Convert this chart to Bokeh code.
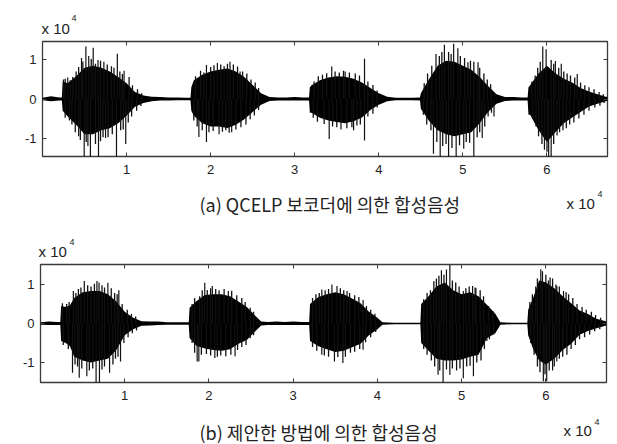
from bokeh.plotting import figure
from bokeh.models import Range1d, FixedTicker, LinearAxis
from bokeh.layouts import column
from bokeh.core.properties import value
from bokeh.embed import file_html
from bokeh.resources import INLINE

# ---------------- data ----------------
x_ticks = [10000, 20000, 30000, 40000, 50000, 60000]
x_tick_labels = ["1", "2", "3", "4", "5", "6"]
y_ticks = [-10000, 0, 10000]
y_tick_labels = ["-1", "0", "1"]
captions = ["(a) QCELP 보코더에 의한 합성음성", "(b) 제안한 방법에 의한 합성음성"]
scale_text = "x 10"
scale_exp = "4"

# panel (a): envelope of the dense waveform
a_x = [0, 1000, 2000, 2300, 2400, 3000, 4000, 5000, 6000, 7000,
       8000, 9000, 10000, 11000, 12000, 13000, 14000, 15000, 16000, 17000,
       17600, 17700, 18000, 19000, 20000, 21000, 22000, 23000, 24000, 25000,
       26000, 27000, 28000, 29000, 30000, 31000, 31700, 31800, 32000, 33000,
       34000, 35000, 36000, 37000, 38000, 39000, 40000, 41000, 42000, 43000,
       44000, 44900, 45000, 46000, 47000, 48000, 49000, 50000, 51000, 52000,
       53000, 54000, 55000, 56000, 57000, 57700, 57800, 58000, 59000, 60000,
       61000, 62000, 63000, 64000, 65000, 66000, 67000, 67200]
a_hi = [300, 700, 400, 400, 4500, 4000, 5800, 8000, 8500, 8000,
        7000, 5600, 4000, 1800, 900, 600, 500, 400, 400, 300,
        300, 3000, 4800, 6200, 7000, 7500, 7800, 7000, 5600, 3600,
        1500, 500, 400, 400, 500, 400, 400, 3000, 3500, 4800,
        5500, 5800, 5700, 5200, 4200, 2800, 1500, 600, 300, 300,
        300, 400, 1500, 5200, 8500, 9800, 9500, 8500, 7500, 5600,
        3300, 1200, 500, 500, 400, 400, 3000, 3500, 6500, 8500,
        6600, 5200, 4200, 2800, 1900, 1200, 600, 500]
a_lo = [-300, -600, -400, -400, -3000, -4500, -6600, -9000, -9000, -8000,
        -7500, -6200, -4300, -2000, -1000, -600, -400, -400, -300, -300,
        -300, -3000, -4300, -6200, -7000, -7000, -7400, -6600, -5200, -3300,
        -1500, -500, -400, -400, -400, -400, -400, -3500, -3500, -4800,
        -5500, -5900, -6200, -5700, -4700, -2800, -1500, -600, -300, -300,
        -300, -400, -2500, -5700, -8000, -9000, -9500, -9000, -8500, -6200,
        -3300, -1200, -500, -400, -400, -400, -4000, -4000, -8000, -11000,
        -8500, -6200, -4700, -3300, -1900, -1200, -600, -500]
# panel (a): tallest isolated peaks (x, amplitude)
a_peaks = [(2500, 5000), (3000, 5500), (4640, 10500), (5160, 13400), (5500, 11000),
           (6030, 13100), (6600, 10000), (7300, 9500), (8900, 11600), (9700, 7200),
           (4300, -9500), (4960, -14800), (5400, -12000), (5700, -14800), (6660, -14800),
           (7500, -10000), (8800, -14800), (9900, -11500),
           (19500, 8700), (20800, 9200), (22300, 9500), (23500, 7000),
           (18600, -9700), (19500, -11000), (21000, -9000), (22500, -8500),
           (34400, 8300), (36000, 7000), (38300, 10300),
           (34100, -10200), (35500, -7800), (37000, -8000), (38300, -10600),
           (46800, 11500), (47800, 13900), (48900, 14100), (49400, 13000), (50600, 9400), (51800, 9400),
           (46500, -14000), (47300, -14800), (48300, -14800), (49200, -14800), (50100, -12700),
           (51300, -14800), (52300, -10000), (53700, -4500),
           (59500, 13400), (59900, 12700), (61000, 9700), (61700, 9000), (63600, 6400),
           (59700, -13000), (60200, -14800), (60500, -14800), (61200, -9300)]
# panel (a): ragged edge of the waveform (x, amplitude)
a_edge = [(2700, 5200), (3300, 4800), (3600, 5600), (4000, 7000), (4300, 8200), (4800, 9600),
          (5800, 10200), (6300, 9000), (6900, 9800), (7700, 8800), (8200, 8400), (8500, 8000),
          (9200, 7000), (9500, 6400), (10300, 5600), (10700, 3500), (11300, 2500), (11800, 1500),
          (2700, -4800), (3200, -5500), (3500, -6500), (3900, -8500), (4500, -10500), (5200, -11000),
          (6300, -11500), (6900, -10800), (7200, -9800), (7800, -9800), (8300, -9000), (9300, -8000),
          (9600, -7800), (10200, -6000), (10600, -4500), (11200, -3000), (11700, -1800),
          (18200, 5800), (18800, 7200), (19200, 6800), (20000, 8200), (20400, 8600), (21200, 8800),
          (21600, 8400), (22000, 9000), (22700, 8800), (23200, 8300), (23800, 7000), (24300, 6500),
          (24800, 5000), (25300, 4200), (25700, 2800),
          (18000, -5500), (18400, -7000), (19000, -8000), (19800, -8500), (20300, -8200), (21400, -8400),
          (21800, -8000), (22200, -8600), (23000, -7800), (23600, -7200), (24200, -6500), (24700, -5200),
          (25200, -4200), (25700, -2800),
          (32300, 4500), (32800, 5800), (33300, 6200), (33800, 6600), (34800, 7000), (35300, 6800),
          (35800, 7200), (36500, 6800), (37200, 6500), (37700, 6000), (38700, 4500), (39300, 3600),
          (39800, 2200),
          (32200, -4800), (32700, -5800), (33500, -6400), (34500, -7000), (35000, -7200), (36200, -7500),
          (36800, -7200), (37400, -6800), (37800, -6500), (38700, -4500), (39300, -3800), (39800, -2200),
          (45400, 4000), (45800, 6500), (46300, 8500), (47200, 11000), (47500, 12000), (48300, 12000),
          (48600, 11500), (49700, 11000), (50200, 10500), (50900, 9800), (51300, 9500), (52000, 8000),
          (52500, 6500), (52900, 5000), (53300, 3800),
          (45300, -4000), (45700, -6500), (46200, -8000), (46900, -11000), (47600, -12000), (48000, -11500),
          (48700, -12500), (49600, -11800), (50400, -11000), (50800, -11200), (51700, -9800), (52000, -8500),
          (52600, -7000), (53000, -4500), (53400, -3500),
          (58200, 4500), (58600, 6000), (58900, 8000), (59200, 9500), (60500, 10000), (60800, 9000),
          (61400, 8000), (62000, 7000), (62400, 6500), (62800, 6000), (63300, 5500), (64000, 4200),
          (64500, 3500), (65000, 3000), (65600, 2500), (66200, 1800), (66700, 1200),
          (58300, -5000), (58700, -7000), (59000, -9500), (59400, -11500), (60000, -13500), (60800, -11500),
          (61500, -8500), (61900, -8000), (62300, -7500), (62700, -6500), (63200, -6000), (63800, -5000),
          (64400, -4000), (65000, -3000), (65700, -2200), (66300, -1700), (66800, -1000)]

# panel (b): envelope of the dense waveform
b_x = [0, 1000, 2000, 2350, 2450, 3000, 3500, 4000, 5000, 6000,
       7000, 8000, 9000, 10000, 11000, 12000, 13000, 14000, 15000, 16000,
       17000, 17600, 17700, 18500, 19500, 20500, 21500, 22500, 23500, 24500,
       25500, 26200, 27000, 28000, 29000, 30000, 31000, 31900, 32000, 33000,
       34000, 35000, 36000, 37000, 38000, 39000, 40000, 40600, 42000, 44000,
       45100, 45200, 46000, 47000, 48000, 49000, 50000, 51000, 52000, 53000,
       54000, 54600, 56000, 57800, 57900, 58500, 59200, 60000, 61000, 62000,
       63000, 64000, 65000, 66000, 67200]
b_hi = [300, 500, 400, 400, 4500, 4200, 4700, 6500, 8000, 8300,
        8300, 7500, 5600, 3000, 1500, 600, 500, 500, 300, 300,
        300, 300, 4000, 5700, 7300, 7500, 7500, 7000, 5600, 4200,
        2000, 500, 400, 500, 400, 500, 400, 400, 5000, 6800,
        7500, 8000, 7500, 6400, 5200, 3000, 1500, 300, 200, 200,
        200, 5000, 6800, 9500, 10500, 8500, 7500, 8000, 7000, 4800,
        2500, 300, 200, 200, 3500, 6600, 11000, 10500, 9000, 7000,
        5200, 3300, 2400, 1200, 500]
b_lo = [-300, -400, -400, -400, -4500, -5000, -5800, -8500, -9500, -10000,
        -9500, -9000, -6800, -3000, -1500, -600, -500, -400, -300, -300,
        -300, -300, -3700, -5700, -6400, -6800, -7000, -6600, -5200, -4200,
        -2000, -500, -400, -400, -400, -400, -400, -400, -4500, -5800,
        -6600, -7300, -7000, -6100, -5200, -3000, -1500, -300, -200, -200,
        -200, -5000, -6800, -9000, -9500, -9500, -9200, -8500, -8000, -3800,
        -2500, -300, -200, -200, -3000, -6600, -9500, -10500, -9000, -6800,
        -5200, -2900, -1900, -1200, -500]
# panel (b): tallest isolated peaks (x, amplitude)
b_peaks = [(3900, 8300), (5200, 10900), (6700, 10900), (6950, 10500), (8000, 10400), (9300, 8500),
           (3800, -12600), (4600, -13900), (5500, -13500), (6600, -15100), (7000, -15100),
           (8200, -12600), (9500, -9700),
           (19500, 10400), (20400, 9600), (22300, 8300),
           (18600, -9700), (18800, -9700), (20700, -8800), (23100, -8400),
           (33400, 8700), (34600, 10000), (35200, 9600), (36400, 8300), (38300, 6000),
           (33400, -8000), (34900, -9700), (35900, -10100), (38300, -6700),
           (47600, 13600), (48200, 13800), (48600, 15000), (50200, 8300), (51300, 9600), (51700, 9100),
           (47200, -13100), (47800, -15100), (48600, -13100), (50200, -14000), (51400, -13500),
           (53000, -4500),
           (59400, 13900), (59600, 13400), (60300, 11000), (61300, 9600), (62100, 8300),
           (59700, -14800), (60100, -14800), (60800, -12000), (61300, -9700)]
# panel (b): ragged edge of the waveform (x, amplitude)
b_edge = [(2600, 5200), (3100, 5000), (3400, 5500), (4200, 7800), (4500, 8800), (4800, 9200),
          (5600, 9800), (6000, 9500), (6400, 10200), (7300, 9800), (7600, 9200), (8400, 9000),
          (8800, 7800), (9100, 7500), (9700, 5000), (10300, 3500), (10800, 2400), (11300, 1800),
          (2700, -5500), (3300, -6500), (4100, -10500), (4400, -11000), (4900, -11500), (5800, -12000),
          (6200, -11500), (7300, -11800), (7600, -11000), (8600, -10500), (8900, -9000), (9200, -8500),
          (9900, -5000), (10400, -3500), (10900, -2500), (11400, -1800),
          (18000, 5000), (18300, 6500), (18900, 7000), (19200, 8500), (19800, 8600), (20200, 9000),
          (20800, 8800), (21200, 8500), (21800, 8800), (22700, 8400), (23300, 7200), (23900, 6500),
          (24300, 5500), (24900, 4000), (25300, 3000),
          (18000, -5000), (18300, -7500), (19100, -8000), (19700, -7800), (20200, -8200), (21000, -8500),
          (21400, -8200), (22000, -8400), (22600, -8000), (23400, -6800), (23900, -6000), (24400, -5500),
          (24900, -3800), (25300, -3000),
          (32300, 6500), (32700, 7500), (33100, 7800), (33800, 8500), (34200, 8800), (35600, 9000),
          (36000, 8500), (36700, 7800), (37300, 7200), (37800, 6800), (38700, 4500), (39200, 3500),
          (39700, 2500),
          (32300, -6000), (32800, -7000), (33700, -8200), (34200, -8500), (35300, -8600), (36200, -8500),
          (36800, -7500), (37300, -7200), (37900, -6500), (38600, -4800), (39200, -3500), (39800, -2200),
          (45500, 6200), (45900, 7800), (46300, 8500), (46700, 10800), (47000, 11500), (47300, 12200),
          (47900, 12500), (48900, 11000), (49300, 10500), (49700, 9500), (50500, 9000), (50900, 9500),
          (51600, 9200), (52200, 8500), (52600, 7000), (53200, 4500), (53700, 3200),
          (45500, -6500), (45900, -8000), (46400, -9500), (46800, -11000), (47400, -12000), (48200, -11800),
          (48900, -11500), (49400, -12000), (49800, -11500), (50600, -11000), (51000, -10800), (51800, -10000),
          (52300, -9500), (52700, -6500), (53300, -4000), (53800, -2800),
          (58100, 5500), (58400, 7500), (58800, 9500), (59000, 11500), (60000, 12500), (60500, 11800),
          (60800, 11500), (61200, 10000), (61600, 9500), (62400, 8000), (62700, 7500), (63200, 6500),
          (63700, 5000), (64300, 4200), (64800, 3500), (65400, 3000), (65900, 2200), (66500, 1500),
          (58200, -5000), (58600, -8000), (59000, -11000), (59300, -12500), (59900, -13000), (60400, -12000),
          (61000, -11000), (61600, -9000), (62000, -8500), (62500, -8000), (63000, -6500), (63500, -5500),
          (64000, -4000), (64600, -3500), (65200, -2800), (65800, -2000), (66400, -1500)]

TICK_FONT = "Liberation Sans"
CAP_FONT = "Noto Sans CJK KR"
TXT = "#222222"
W = 617


def make_panel(height, b_left, b_right, b_top, b_bottom, yr, ex, ehi, elo, peaks, edge):
    p = figure(width=W, height=height, output_backend="svg", toolbar_location=None,
               x_range=Range1d(0, 67200), y_range=Range1d(*yr),
               min_border_left=b_left, min_border_right=b_right,
               min_border_top=b_top, min_border_bottom=b_bottom)
    p.frame_align = False
    p.grid.visible = False
    p.background_fill_color = "white"
    p.border_fill_color = "white"
    p.outline_line_color = "#3a3a3a"
    p.outline_line_width = 1.3

    p.varea(x=ex, y1=elo, y2=ehi, fill_color="black")
    for pts, lw in ((edge, 1.3), (peaks, 1.2)):
        xs = [q[0] for q in pts]
        ys = [q[1] for q in pts]
        p.segment(x0=xs, y0=[0] * len(xs), x1=xs, y1=ys, line_color="#111111", line_width=lw)

    for ax in (p.xaxis[0], p.yaxis[0]):
        ax.major_tick_in = 4
        ax.major_tick_out = 0
        ax.minor_tick_line_color = None
        ax.axis_line_color = None
        ax.major_tick_line_color = "#3a3a3a"
        ax.major_label_text_font = TICK_FONT
        ax.major_label_text_font_size = "13px"
        ax.major_label_text_color = TXT
    p.xaxis.ticker = FixedTicker(ticks=x_ticks)
    p.xaxis.major_label_overrides = dict(zip(x_ticks, x_tick_labels))
    p.xaxis.major_label_standoff = 8
    p.yaxis.ticker = FixedTicker(ticks=y_ticks)
    p.yaxis.major_label_overrides = dict(zip(y_ticks, y_tick_labels))
    p.yaxis.major_label_standoff = 6

    # MATLAB-style box ticks on the top and right edges (no labels)
    for loc, tk in (("above", x_ticks), ("right", y_ticks)):
        ax = LinearAxis(ticker=FixedTicker(ticks=tk))
        ax.major_tick_in = 4
        ax.major_tick_out = 0
        ax.minor_tick_line_color = None
        ax.axis_line_color = None
        ax.major_tick_line_color = "#3a3a3a"
        ax.major_label_overrides = {t: "" for t in tk}
        ax.major_label_text_color = None
        ax.major_label_standoff = 0
        if loc == "above":
            ax.major_label_orientation = "vertical"
        p.add_layout(ax, loc)
    return p


def text_strip(height, items):
    # items: (left x, centre y, text, size, font) in this strip's pixels
    s = figure(width=W, height=height, output_backend="svg", toolbar_location=None,
               x_range=Range1d(0, W), y_range=Range1d(height, 0),
               x_axis_type=None, y_axis_type=None,
               min_border_left=0, min_border_right=0, min_border_top=0, min_border_bottom=0)
    s.frame_align = False
    s.grid.visible = False
    s.outline_line_color = None
    s.background_fill_color = "white"
    s.border_fill_color = "white"
    for (x, y, t, size, font) in items:
        s.text(x=[x], y=[y], text=[t], text_font=value(font), text_font_size=value(size),
               text_color=TXT, text_align="left", text_baseline="middle")
    return s


s0 = text_strip(36, [(41, 28, scale_text, "15px", TICK_FONT),
                     (71, 17, scale_exp, "9px", TICK_FONT)])
p1 = make_panel(150, 42, 10, 5, 30, (-14700, 14700), a_x, a_hi, a_lo, a_peaks, a_edge)
s1 = text_strip(75, [(199, 17, captions[0], "18px", CAP_FONT),
                     (566, 17, scale_text, "15px", TICK_FONT),
                     (597, 7, scale_exp, "9px", TICK_FONT),
                     (38, 65, scale_text, "15px", TICK_FONT),
                     (69, 55, scale_exp, "9px", TICK_FONT)])
p2 = make_panel(149, 40, 11, 3, 28, (-15100, 15100), b_x, b_hi, b_lo, b_peaks, b_edge)
s3 = text_strip(34, [(199, 21, captions[1], "18px", CAP_FONT),
                     (563, 20, scale_text, "15px", TICK_FONT),
                     (594, 11, scale_exp, "9px", TICK_FONT)])

layout = column(s0, p1, s1, p2, s3, spacing=0)
open("out.html", "w").write(file_html(layout, INLINE))
